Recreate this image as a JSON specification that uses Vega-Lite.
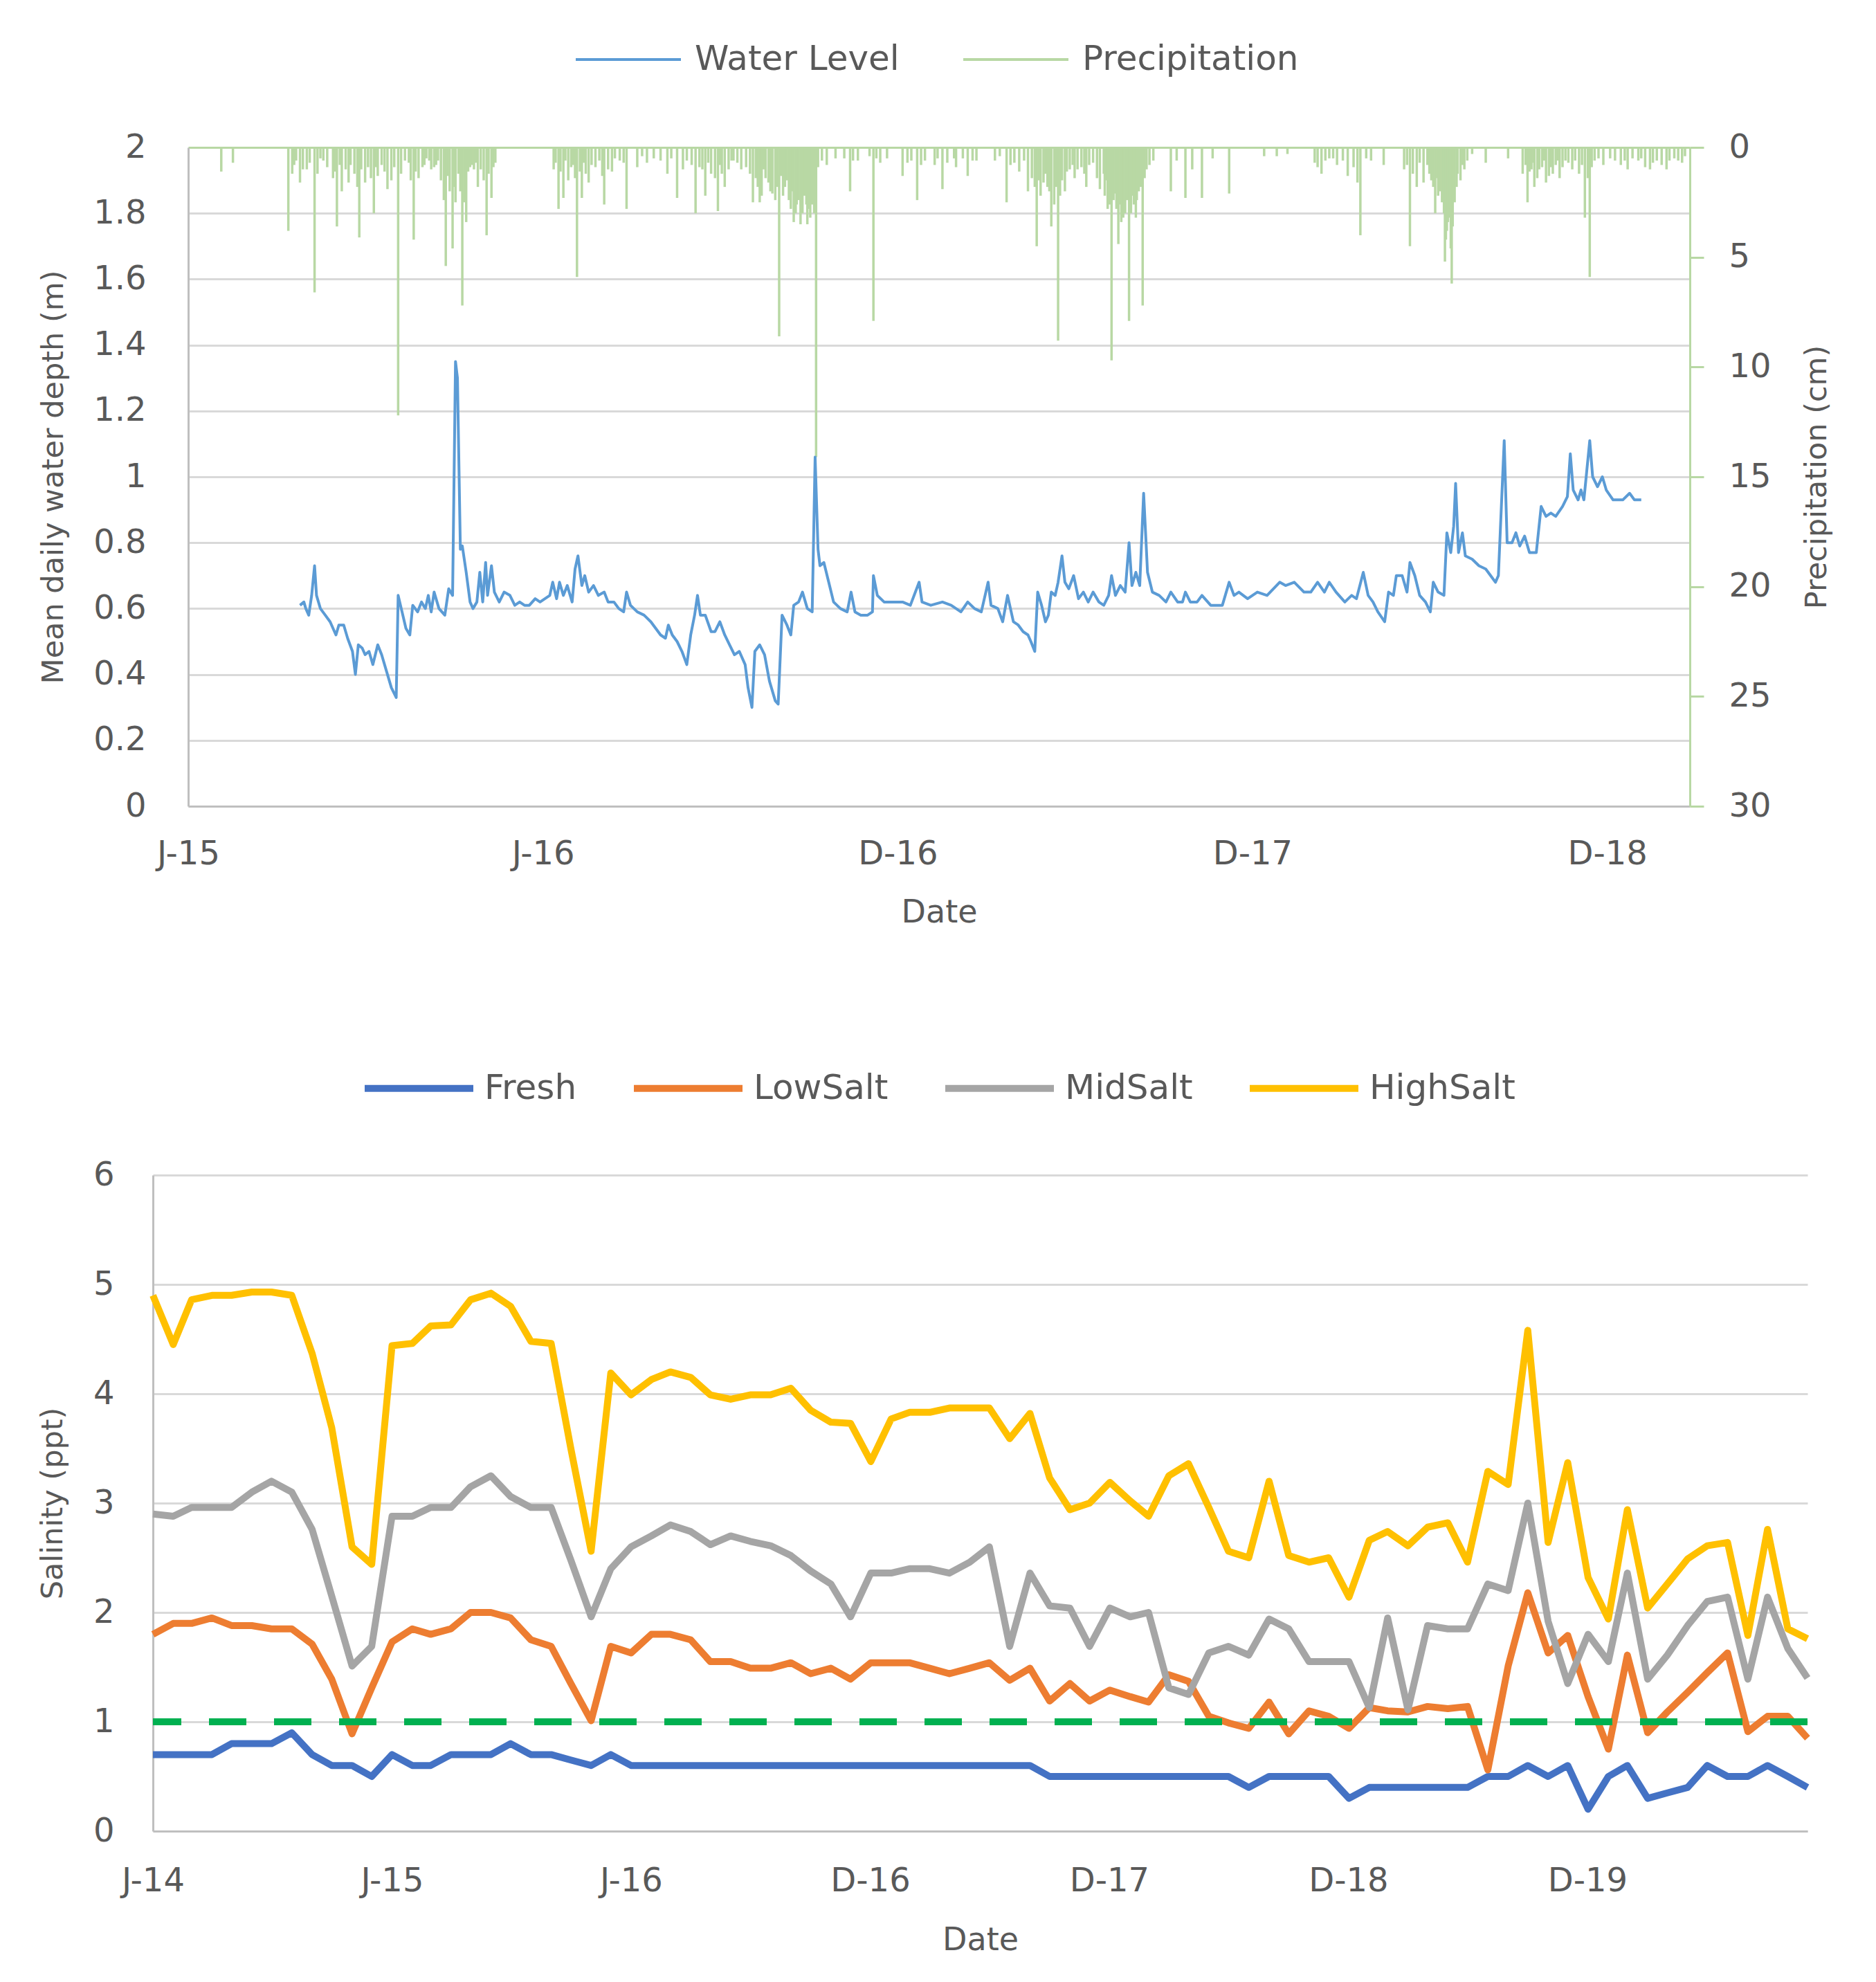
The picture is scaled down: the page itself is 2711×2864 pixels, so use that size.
{
  "$schema": "https://vega.github.io/schema/vega-lite/v6.json",
  "background": "white",
  "padding": {"left": 55, "top": 8, "right": 10, "bottom": 10},
  "config": {
    "view": {"stroke": null},
    "font": "DejaVu Sans",
    "axis": {
      "labelColor": "#595959",
      "titleColor": "#595959",
      "titleFontWeight": "normal",
      "labelFontSize": 48,
      "titleFontSize": 43,
      "domainColor": "#bfbfbf",
      "domainWidth": 3,
      "gridColor": "#d9d9d9",
      "gridWidth": 3,
      "ticks": false,
      "tickSize": 0,
      "labelOverlap": false
    },
    "legend": {"labelColor": "#595959", "labelFontSize": 50, "labelLimit": 0}
  },
  "datasets": {
    "water": [
      {"date": "2015-04-26", "depth": 0.61}, {"date": "2015-04-30", "depth": 0.62}, {"date": "2015-05-02", "depth": 0.6},
      {"date": "2015-05-05", "depth": 0.58}, {"date": "2015-05-08", "depth": 0.64}, {"date": "2015-05-11", "depth": 0.73},
      {"date": "2015-05-13", "depth": 0.64}, {"date": "2015-05-17", "depth": 0.6}, {"date": "2015-05-22", "depth": 0.58},
      {"date": "2015-05-27", "depth": 0.56}, {"date": "2015-06-02", "depth": 0.52}, {"date": "2015-06-05", "depth": 0.55},
      {"date": "2015-06-10", "depth": 0.55}, {"date": "2015-06-14", "depth": 0.51}, {"date": "2015-06-19", "depth": 0.47},
      {"date": "2015-06-22", "depth": 0.4}, {"date": "2015-06-25", "depth": 0.49}, {"date": "2015-06-29", "depth": 0.48},
      {"date": "2015-07-02", "depth": 0.46}, {"date": "2015-07-06", "depth": 0.47}, {"date": "2015-07-10", "depth": 0.43},
      {"date": "2015-07-15", "depth": 0.49}, {"date": "2015-07-19", "depth": 0.46}, {"date": "2015-07-24", "depth": 0.41},
      {"date": "2015-07-29", "depth": 0.36}, {"date": "2015-08-03", "depth": 0.33}, {"date": "2015-08-05", "depth": 0.64},
      {"date": "2015-08-09", "depth": 0.59}, {"date": "2015-08-13", "depth": 0.54}, {"date": "2015-08-17", "depth": 0.52},
      {"date": "2015-08-20", "depth": 0.61}, {"date": "2015-08-25", "depth": 0.59}, {"date": "2015-08-29", "depth": 0.62},
      {"date": "2015-09-02", "depth": 0.6}, {"date": "2015-09-05", "depth": 0.64}, {"date": "2015-09-08", "depth": 0.59},
      {"date": "2015-09-11", "depth": 0.65}, {"date": "2015-09-16", "depth": 0.6}, {"date": "2015-09-22", "depth": 0.58},
      {"date": "2015-09-26", "depth": 0.66}, {"date": "2015-09-30", "depth": 0.64}, {"date": "2015-10-03", "depth": 1.35},
      {"date": "2015-10-05", "depth": 1.3}, {"date": "2015-10-08", "depth": 0.78}, {"date": "2015-10-10", "depth": 0.79},
      {"date": "2015-10-14", "depth": 0.71}, {"date": "2015-10-18", "depth": 0.62}, {"date": "2015-10-21", "depth": 0.6},
      {"date": "2015-10-25", "depth": 0.62}, {"date": "2015-10-28", "depth": 0.71}, {"date": "2015-10-31", "depth": 0.62},
      {"date": "2015-11-03", "depth": 0.74}, {"date": "2015-11-05", "depth": 0.64}, {"date": "2015-11-09", "depth": 0.73},
      {"date": "2015-11-12", "depth": 0.65}, {"date": "2015-11-17", "depth": 0.62}, {"date": "2015-11-22", "depth": 0.65},
      {"date": "2015-11-28", "depth": 0.64}, {"date": "2015-12-03", "depth": 0.61}, {"date": "2015-12-08", "depth": 0.62},
      {"date": "2015-12-13", "depth": 0.61}, {"date": "2015-12-18", "depth": 0.61}, {"date": "2015-12-24", "depth": 0.63},
      {"date": "2015-12-29", "depth": 0.62}, {"date": "2016-01-03", "depth": 0.63}, {"date": "2016-01-08", "depth": 0.64},
      {"date": "2016-01-11", "depth": 0.68}, {"date": "2016-01-15", "depth": 0.63}, {"date": "2016-01-18", "depth": 0.68},
      {"date": "2016-01-22", "depth": 0.64}, {"date": "2016-01-26", "depth": 0.67}, {"date": "2016-01-31", "depth": 0.62},
      {"date": "2016-02-03", "depth": 0.72}, {"date": "2016-02-06", "depth": 0.76}, {"date": "2016-02-10", "depth": 0.67},
      {"date": "2016-02-13", "depth": 0.7}, {"date": "2016-02-17", "depth": 0.65}, {"date": "2016-02-22", "depth": 0.67},
      {"date": "2016-02-27", "depth": 0.64}, {"date": "2016-03-04", "depth": 0.65}, {"date": "2016-03-08", "depth": 0.62},
      {"date": "2016-03-14", "depth": 0.62}, {"date": "2016-03-19", "depth": 0.6}, {"date": "2016-03-24", "depth": 0.59},
      {"date": "2016-03-27", "depth": 0.65}, {"date": "2016-03-31", "depth": 0.61}, {"date": "2016-04-07", "depth": 0.59},
      {"date": "2016-04-14", "depth": 0.58}, {"date": "2016-04-21", "depth": 0.56}, {"date": "2016-04-26", "depth": 0.54},
      {"date": "2016-05-01", "depth": 0.52}, {"date": "2016-05-06", "depth": 0.51}, {"date": "2016-05-09", "depth": 0.55},
      {"date": "2016-05-13", "depth": 0.52}, {"date": "2016-05-18", "depth": 0.5}, {"date": "2016-05-23", "depth": 0.47},
      {"date": "2016-05-28", "depth": 0.43}, {"date": "2016-06-01", "depth": 0.52}, {"date": "2016-06-05", "depth": 0.58},
      {"date": "2016-06-08", "depth": 0.64}, {"date": "2016-06-11", "depth": 0.58}, {"date": "2016-06-16", "depth": 0.58},
      {"date": "2016-06-22", "depth": 0.53}, {"date": "2016-06-26", "depth": 0.53}, {"date": "2016-07-01", "depth": 0.56},
      {"date": "2016-07-06", "depth": 0.52}, {"date": "2016-07-11", "depth": 0.49}, {"date": "2016-07-16", "depth": 0.46},
      {"date": "2016-07-21", "depth": 0.47}, {"date": "2016-07-27", "depth": 0.43}, {"date": "2016-07-30", "depth": 0.36},
      {"date": "2016-08-03", "depth": 0.3}, {"date": "2016-08-06", "depth": 0.47}, {"date": "2016-08-11", "depth": 0.49},
      {"date": "2016-08-16", "depth": 0.46}, {"date": "2016-08-21", "depth": 0.38}, {"date": "2016-08-27", "depth": 0.32},
      {"date": "2016-08-30", "depth": 0.31}, {"date": "2016-09-03", "depth": 0.58}, {"date": "2016-09-08", "depth": 0.55},
      {"date": "2016-09-12", "depth": 0.52}, {"date": "2016-09-15", "depth": 0.61}, {"date": "2016-09-20", "depth": 0.62},
      {"date": "2016-09-24", "depth": 0.65}, {"date": "2016-09-29", "depth": 0.6}, {"date": "2016-10-04", "depth": 0.59},
      {"date": "2016-10-07", "depth": 1.06}, {"date": "2016-10-10", "depth": 0.78}, {"date": "2016-10-12", "depth": 0.73},
      {"date": "2016-10-16", "depth": 0.74}, {"date": "2016-10-21", "depth": 0.68}, {"date": "2016-10-26", "depth": 0.62},
      {"date": "2016-11-02", "depth": 0.6}, {"date": "2016-11-09", "depth": 0.59}, {"date": "2016-11-13", "depth": 0.65},
      {"date": "2016-11-17", "depth": 0.59}, {"date": "2016-11-23", "depth": 0.58}, {"date": "2016-11-30", "depth": 0.58},
      {"date": "2016-12-05", "depth": 0.59}, {"date": "2016-12-06", "depth": 0.7}, {"date": "2016-12-10", "depth": 0.64},
      {"date": "2016-12-17", "depth": 0.62}, {"date": "2016-12-27", "depth": 0.62}, {"date": "2017-01-05", "depth": 0.62},
      {"date": "2017-01-13", "depth": 0.61}, {"date": "2017-01-22", "depth": 0.68}, {"date": "2017-01-25", "depth": 0.62},
      {"date": "2017-02-03", "depth": 0.61}, {"date": "2017-02-15", "depth": 0.62}, {"date": "2017-02-24", "depth": 0.61},
      {"date": "2017-03-06", "depth": 0.59}, {"date": "2017-03-13", "depth": 0.62}, {"date": "2017-03-20", "depth": 0.6},
      {"date": "2017-03-27", "depth": 0.59}, {"date": "2017-04-03", "depth": 0.68}, {"date": "2017-04-06", "depth": 0.61},
      {"date": "2017-04-13", "depth": 0.6}, {"date": "2017-04-18", "depth": 0.56}, {"date": "2017-04-23", "depth": 0.64},
      {"date": "2017-04-29", "depth": 0.56}, {"date": "2017-05-04", "depth": 0.55}, {"date": "2017-05-09", "depth": 0.53},
      {"date": "2017-05-14", "depth": 0.52}, {"date": "2017-05-17", "depth": 0.5}, {"date": "2017-05-21", "depth": 0.47},
      {"date": "2017-05-24", "depth": 0.65}, {"date": "2017-05-28", "depth": 0.61}, {"date": "2017-06-01", "depth": 0.56},
      {"date": "2017-06-04", "depth": 0.58}, {"date": "2017-06-07", "depth": 0.65}, {"date": "2017-06-11", "depth": 0.64},
      {"date": "2017-06-14", "depth": 0.68}, {"date": "2017-06-18", "depth": 0.76}, {"date": "2017-06-21", "depth": 0.68},
      {"date": "2017-06-25", "depth": 0.66}, {"date": "2017-06-30", "depth": 0.7}, {"date": "2017-07-05", "depth": 0.63},
      {"date": "2017-07-10", "depth": 0.65}, {"date": "2017-07-15", "depth": 0.62}, {"date": "2017-07-20", "depth": 0.65},
      {"date": "2017-07-26", "depth": 0.62}, {"date": "2017-07-31", "depth": 0.61}, {"date": "2017-08-05", "depth": 0.64},
      {"date": "2017-08-08", "depth": 0.7}, {"date": "2017-08-12", "depth": 0.64}, {"date": "2017-08-17", "depth": 0.67},
      {"date": "2017-08-22", "depth": 0.65}, {"date": "2017-08-26", "depth": 0.8}, {"date": "2017-08-29", "depth": 0.67},
      {"date": "2017-09-02", "depth": 0.71}, {"date": "2017-09-06", "depth": 0.67}, {"date": "2017-09-10", "depth": 0.95},
      {"date": "2017-09-14", "depth": 0.71}, {"date": "2017-09-19", "depth": 0.65}, {"date": "2017-09-26", "depth": 0.64},
      {"date": "2017-10-03", "depth": 0.62}, {"date": "2017-10-08", "depth": 0.65}, {"date": "2017-10-15", "depth": 0.62},
      {"date": "2017-10-20", "depth": 0.62}, {"date": "2017-10-23", "depth": 0.65}, {"date": "2017-10-28", "depth": 0.62},
      {"date": "2017-11-04", "depth": 0.62}, {"date": "2017-11-09", "depth": 0.64}, {"date": "2017-11-18", "depth": 0.61},
      {"date": "2017-11-30", "depth": 0.61}, {"date": "2017-12-07", "depth": 0.68}, {"date": "2017-12-12", "depth": 0.64},
      {"date": "2017-12-17", "depth": 0.65}, {"date": "2017-12-26", "depth": 0.63}, {"date": "2018-01-05", "depth": 0.65},
      {"date": "2018-01-15", "depth": 0.64}, {"date": "2018-01-28", "depth": 0.68}, {"date": "2018-02-03", "depth": 0.67},
      {"date": "2018-02-12", "depth": 0.68}, {"date": "2018-02-22", "depth": 0.65}, {"date": "2018-03-01", "depth": 0.65},
      {"date": "2018-03-08", "depth": 0.68}, {"date": "2018-03-15", "depth": 0.65}, {"date": "2018-03-20", "depth": 0.68},
      {"date": "2018-03-27", "depth": 0.65}, {"date": "2018-04-05", "depth": 0.62}, {"date": "2018-04-12", "depth": 0.64},
      {"date": "2018-04-17", "depth": 0.63}, {"date": "2018-04-24", "depth": 0.71}, {"date": "2018-04-29", "depth": 0.64},
      {"date": "2018-05-04", "depth": 0.62}, {"date": "2018-05-09", "depth": 0.59}, {"date": "2018-05-16", "depth": 0.56},
      {"date": "2018-05-20", "depth": 0.65}, {"date": "2018-05-25", "depth": 0.64}, {"date": "2018-05-28", "depth": 0.7},
      {"date": "2018-06-03", "depth": 0.7}, {"date": "2018-06-08", "depth": 0.65}, {"date": "2018-06-11", "depth": 0.74},
      {"date": "2018-06-16", "depth": 0.7}, {"date": "2018-06-21", "depth": 0.64}, {"date": "2018-06-27", "depth": 0.62},
      {"date": "2018-07-02", "depth": 0.59}, {"date": "2018-07-05", "depth": 0.68}, {"date": "2018-07-10", "depth": 0.65},
      {"date": "2018-07-16", "depth": 0.64}, {"date": "2018-07-19", "depth": 0.83}, {"date": "2018-07-23", "depth": 0.77},
      {"date": "2018-07-26", "depth": 0.85}, {"date": "2018-07-28", "depth": 0.98}, {"date": "2018-07-31", "depth": 0.77},
      {"date": "2018-08-04", "depth": 0.83}, {"date": "2018-08-07", "depth": 0.76}, {"date": "2018-08-14", "depth": 0.75},
      {"date": "2018-08-21", "depth": 0.73}, {"date": "2018-08-28", "depth": 0.72}, {"date": "2018-09-02", "depth": 0.7},
      {"date": "2018-09-07", "depth": 0.68}, {"date": "2018-09-10", "depth": 0.7}, {"date": "2018-09-16", "depth": 1.11},
      {"date": "2018-09-19", "depth": 0.8}, {"date": "2018-09-24", "depth": 0.8}, {"date": "2018-09-28", "depth": 0.83},
      {"date": "2018-10-02", "depth": 0.79}, {"date": "2018-10-07", "depth": 0.82}, {"date": "2018-10-12", "depth": 0.77},
      {"date": "2018-10-19", "depth": 0.77}, {"date": "2018-10-24", "depth": 0.91}, {"date": "2018-10-29", "depth": 0.88},
      {"date": "2018-11-03", "depth": 0.89}, {"date": "2018-11-08", "depth": 0.88}, {"date": "2018-11-15", "depth": 0.91},
      {"date": "2018-11-20", "depth": 0.94}, {"date": "2018-11-23", "depth": 1.07}, {"date": "2018-11-26", "depth": 0.96},
      {"date": "2018-12-01", "depth": 0.93}, {"date": "2018-12-04", "depth": 0.96}, {"date": "2018-12-07", "depth": 0.93},
      {"date": "2018-12-10", "depth": 1.02}, {"date": "2018-12-13", "depth": 1.11}, {"date": "2018-12-16", "depth": 1.0},
      {"date": "2018-12-21", "depth": 0.97}, {"date": "2018-12-26", "depth": 1.0}, {"date": "2018-12-30", "depth": 0.96},
      {"date": "2019-01-06", "depth": 0.93}, {"date": "2019-01-16", "depth": 0.93}, {"date": "2019-01-23", "depth": 0.95},
      {"date": "2019-01-28", "depth": 0.93}, {"date": "2019-02-04", "depth": 0.93}
    ],
    "precip": [
      {"date": "2015-02-04", "precip": 1.1}, {"date": "2015-02-16", "precip": 0.7}, {"date": "2015-04-14", "precip": 3.8},
      {"date": "2015-04-18", "precip": 1.2}, {"date": "2015-04-20", "precip": 0.8}, {"date": "2015-04-26", "precip": 1.6},
      {"date": "2015-05-03", "precip": 1.0}, {"date": "2015-05-11", "precip": 6.6}, {"date": "2015-05-17", "precip": 0.5},
      {"date": "2015-05-24", "precip": 0.9}, {"date": "2015-05-30", "precip": 1.4}, {"date": "2015-06-03", "precip": 3.6},
      {"date": "2015-06-08", "precip": 2.0}, {"date": "2015-06-12", "precip": 1.0}, {"date": "2015-06-17", "precip": 0.8},
      {"date": "2015-06-21", "precip": 1.2}, {"date": "2015-06-26", "precip": 4.1}, {"date": "2015-07-02", "precip": 1.6},
      {"date": "2015-07-05", "precip": 0.9}, {"date": "2015-07-11", "precip": 3.0}, {"date": "2015-07-15", "precip": 1.3},
      {"date": "2015-07-19", "precip": 0.8}, {"date": "2015-07-25", "precip": 1.9}, {"date": "2015-07-29", "precip": 1.5},
      {"date": "2015-08-05", "precip": 12.2}, {"date": "2015-08-12", "precip": 0.6}, {"date": "2015-08-21", "precip": 4.2},
      {"date": "2015-08-26", "precip": 1.4}, {"date": "2015-08-30", "precip": 0.9}, {"date": "2015-09-03", "precip": 0.5},
      {"date": "2015-09-08", "precip": 1.0}, {"date": "2015-09-13", "precip": 0.8}, {"date": "2015-09-18", "precip": 1.5},
      {"date": "2015-09-23", "precip": 5.4}, {"date": "2015-09-27", "precip": 2.0}, {"date": "2015-09-30", "precip": 4.6},
      {"date": "2015-10-03", "precip": 2.5}, {"date": "2015-10-06", "precip": 1.2}, {"date": "2015-10-10", "precip": 7.2},
      {"date": "2015-10-14", "precip": 3.4}, {"date": "2015-10-18", "precip": 0.9}, {"date": "2015-10-22", "precip": 1.0},
      {"date": "2015-10-26", "precip": 1.8}, {"date": "2015-11-01", "precip": 1.5}, {"date": "2015-11-04", "precip": 4.0},
      {"date": "2015-11-09", "precip": 2.3}, {"date": "2015-11-13", "precip": 0.7}, {"date": "2016-01-12", "precip": 1.0},
      {"date": "2016-01-17", "precip": 2.8}, {"date": "2016-01-22", "precip": 2.3}, {"date": "2016-01-27", "precip": 1.5},
      {"date": "2016-02-01", "precip": 0.8}, {"date": "2016-02-05", "precip": 5.9}, {"date": "2016-02-10", "precip": 2.3},
      {"date": "2016-02-14", "precip": 1.2}, {"date": "2016-02-17", "precip": 1.6}, {"date": "2016-02-24", "precip": 0.9},
      {"date": "2016-03-04", "precip": 2.6}, {"date": "2016-03-08", "precip": 1.0}, {"date": "2016-03-12", "precip": 1.1},
      {"date": "2016-03-20", "precip": 0.6}, {"date": "2016-03-27", "precip": 2.8}, {"date": "2016-04-07", "precip": 0.9},
      {"date": "2016-04-12", "precip": 0.4}, {"date": "2016-04-17", "precip": 0.7}, {"date": "2016-04-24", "precip": 0.5},
      {"date": "2016-05-01", "precip": 0.6}, {"date": "2016-05-08", "precip": 1.2}, {"date": "2016-05-18", "precip": 2.3},
      {"date": "2016-05-24", "precip": 1.0}, {"date": "2016-06-06", "precip": 3.0}, {"date": "2016-06-10", "precip": 0.9},
      {"date": "2016-06-16", "precip": 2.2}, {"date": "2016-06-22", "precip": 1.2}, {"date": "2016-06-29", "precip": 2.9},
      {"date": "2016-07-01", "precip": 0.8}, {"date": "2016-07-06", "precip": 1.8}, {"date": "2016-07-10", "precip": 1.0},
      {"date": "2016-07-15", "precip": 0.6}, {"date": "2016-07-19", "precip": 0.7}, {"date": "2016-07-23", "precip": 1.0},
      {"date": "2016-07-28", "precip": 0.9}, {"date": "2016-08-04", "precip": 2.5}, {"date": "2016-08-07", "precip": 1.4},
      {"date": "2016-08-11", "precip": 2.5}, {"date": "2016-08-15", "precip": 1.0}, {"date": "2016-08-20", "precip": 1.6},
      {"date": "2016-08-24", "precip": 2.1}, {"date": "2016-08-31", "precip": 8.6}, {"date": "2016-09-02", "precip": 1.3},
      {"date": "2016-09-06", "precip": 1.8}, {"date": "2016-09-10", "precip": 2.4}, {"date": "2016-09-15", "precip": 3.4},
      {"date": "2016-09-18", "precip": 2.6}, {"date": "2016-09-22", "precip": 3.5}, {"date": "2016-09-26", "precip": 2.2},
      {"date": "2016-09-29", "precip": 3.5}, {"date": "2016-10-02", "precip": 3.2}, {"date": "2016-10-04", "precip": 2.6},
      {"date": "2016-10-08", "precip": 14.1}, {"date": "2016-10-19", "precip": 0.8}, {"date": "2016-10-28", "precip": 0.5},
      {"date": "2016-11-12", "precip": 2.0}, {"date": "2016-11-20", "precip": 0.6}, {"date": "2016-12-06", "precip": 7.9},
      {"date": "2016-12-13", "precip": 0.7}, {"date": "2016-12-20", "precip": 0.5}, {"date": "2017-01-05", "precip": 1.3},
      {"date": "2017-01-10", "precip": 0.7}, {"date": "2017-01-20", "precip": 2.4}, {"date": "2017-01-28", "precip": 0.6},
      {"date": "2017-02-07", "precip": 0.8}, {"date": "2017-02-15", "precip": 1.9}, {"date": "2017-02-27", "precip": 0.5},
      {"date": "2017-03-01", "precip": 0.9}, {"date": "2017-03-13", "precip": 1.3}, {"date": "2017-03-22", "precip": 0.6},
      {"date": "2017-04-10", "precip": 0.6}, {"date": "2017-04-22", "precip": 2.5}, {"date": "2017-04-30", "precip": 0.7},
      {"date": "2017-05-05", "precip": 1.1}, {"date": "2017-05-14", "precip": 2.0}, {"date": "2017-05-18", "precip": 1.4},
      {"date": "2017-05-23", "precip": 4.5}, {"date": "2017-05-27", "precip": 2.2}, {"date": "2017-05-30", "precip": 1.6},
      {"date": "2017-06-03", "precip": 1.8}, {"date": "2017-06-07", "precip": 3.6}, {"date": "2017-06-10", "precip": 2.6},
      {"date": "2017-06-14", "precip": 8.8}, {"date": "2017-06-18", "precip": 1.5}, {"date": "2017-06-21", "precip": 2.0},
      {"date": "2017-06-26", "precip": 1.0}, {"date": "2017-07-01", "precip": 1.4}, {"date": "2017-07-08", "precip": 0.9},
      {"date": "2017-07-13", "precip": 1.8}, {"date": "2017-07-20", "precip": 0.7}, {"date": "2017-07-31", "precip": 1.2},
      {"date": "2017-08-02", "precip": 1.5}, {"date": "2017-08-04", "precip": 2.8}, {"date": "2017-08-08", "precip": 9.7},
      {"date": "2017-08-10", "precip": 2.4}, {"date": "2017-08-12", "precip": 2.1}, {"date": "2017-08-15", "precip": 4.4},
      {"date": "2017-08-17", "precip": 2.6}, {"date": "2017-08-20", "precip": 3.2}, {"date": "2017-08-22", "precip": 3.0},
      {"date": "2017-08-26", "precip": 7.9}, {"date": "2017-08-29", "precip": 2.2}, {"date": "2017-09-02", "precip": 3.2},
      {"date": "2017-09-05", "precip": 2.0}, {"date": "2017-09-09", "precip": 7.2}, {"date": "2017-09-13", "precip": 1.0},
      {"date": "2017-09-20", "precip": 0.6}, {"date": "2017-10-08", "precip": 2.0}, {"date": "2017-10-14", "precip": 0.6},
      {"date": "2017-10-23", "precip": 2.3}, {"date": "2017-10-30", "precip": 1.0}, {"date": "2017-11-09", "precip": 2.3},
      {"date": "2017-11-20", "precip": 0.5}, {"date": "2017-12-07", "precip": 2.1}, {"date": "2018-01-12", "precip": 0.4},
      {"date": "2018-01-25", "precip": 0.4}, {"date": "2018-02-05", "precip": 0.3}, {"date": "2018-03-05", "precip": 0.7},
      {"date": "2018-03-12", "precip": 1.2}, {"date": "2018-03-20", "precip": 0.5}, {"date": "2018-03-28", "precip": 0.8},
      {"date": "2018-04-08", "precip": 1.3}, {"date": "2018-04-14", "precip": 0.9}, {"date": "2018-04-21", "precip": 4.0},
      {"date": "2018-05-02", "precip": 0.6}, {"date": "2018-05-15", "precip": 0.8}, {"date": "2018-06-05", "precip": 1.0},
      {"date": "2018-06-11", "precip": 4.5}, {"date": "2018-06-18", "precip": 1.8}, {"date": "2018-06-25", "precip": 1.6},
      {"date": "2018-07-01", "precip": 1.2}, {"date": "2018-07-07", "precip": 3.0}, {"date": "2018-07-12", "precip": 2.0},
      {"date": "2018-07-14", "precip": 2.5}, {"date": "2018-07-17", "precip": 5.2}, {"date": "2018-07-19", "precip": 3.8},
      {"date": "2018-07-21", "precip": 3.2}, {"date": "2018-07-24", "precip": 6.2}, {"date": "2018-07-27", "precip": 2.5},
      {"date": "2018-07-29", "precip": 1.8}, {"date": "2018-08-02", "precip": 1.5}, {"date": "2018-08-06", "precip": 1.0},
      {"date": "2018-08-14", "precip": 0.3}, {"date": "2018-08-28", "precip": 0.7}, {"date": "2018-09-20", "precip": 0.5},
      {"date": "2018-10-05", "precip": 1.2}, {"date": "2018-10-10", "precip": 2.5}, {"date": "2018-10-14", "precip": 1.0},
      {"date": "2018-10-17", "precip": 1.8}, {"date": "2018-10-20", "precip": 1.4}, {"date": "2018-10-25", "precip": 0.9},
      {"date": "2018-10-29", "precip": 1.6}, {"date": "2018-11-01", "precip": 1.3}, {"date": "2018-11-05", "precip": 1.2},
      {"date": "2018-11-08", "precip": 0.8}, {"date": "2018-11-12", "precip": 1.4}, {"date": "2018-11-18", "precip": 0.6},
      {"date": "2018-11-25", "precip": 1.0}, {"date": "2018-12-02", "precip": 1.2}, {"date": "2018-12-08", "precip": 3.2},
      {"date": "2018-12-13", "precip": 5.9}, {"date": "2018-12-18", "precip": 0.6}, {"date": "2018-12-27", "precip": 0.8},
      {"date": "2019-01-08", "precip": 0.6}, {"date": "2019-01-14", "precip": 0.8}, {"date": "2019-01-21", "precip": 1.0},
      {"date": "2019-02-01", "precip": 0.6}, {"date": "2019-02-08", "precip": 0.9}, {"date": "2019-02-13", "precip": 1.0},
      {"date": "2019-02-20", "precip": 0.6}, {"date": "2019-02-25", "precip": 0.8}, {"date": "2019-03-02", "precip": 1.0},
      {"date": "2019-03-10", "precip": 0.5}, {"date": "2019-03-18", "precip": 0.7},
      {"date": "2015-04-22", "precip": 0.6}, {"date": "2015-04-29", "precip": 1.0}, {"date": "2015-05-06", "precip": 0.7},
      {"date": "2015-05-14", "precip": 1.2}, {"date": "2015-05-20", "precip": 0.6}, {"date": "2015-06-01", "precip": 1.1},
      {"date": "2015-06-06", "precip": 0.8}, {"date": "2015-06-15", "precip": 1.6}, {"date": "2015-06-24", "precip": 1.8},
      {"date": "2015-06-28", "precip": 1.0}, {"date": "2015-07-08", "precip": 1.4}, {"date": "2015-07-13", "precip": 0.9},
      {"date": "2015-07-22", "precip": 1.1}, {"date": "2015-08-01", "precip": 0.9}, {"date": "2015-08-08", "precip": 1.2},
      {"date": "2015-08-16", "precip": 0.7}, {"date": "2015-08-18", "precip": 1.5}, {"date": "2015-08-23", "precip": 1.1},
      {"date": "2015-09-01", "precip": 0.8}, {"date": "2015-09-06", "precip": 0.6}, {"date": "2015-09-11", "precip": 0.9},
      {"date": "2015-09-15", "precip": 0.6}, {"date": "2015-09-21", "precip": 2.4}, {"date": "2015-09-25", "precip": 1.3},
      {"date": "2015-10-01", "precip": 1.8}, {"date": "2015-10-08", "precip": 2.0}, {"date": "2015-10-12", "precip": 2.5},
      {"date": "2015-10-16", "precip": 1.1}, {"date": "2015-10-20", "precip": 0.8}, {"date": "2015-10-24", "precip": 0.7},
      {"date": "2015-10-29", "precip": 1.0}, {"date": "2015-11-06", "precip": 1.2}, {"date": "2015-11-11", "precip": 0.9},
      {"date": "2016-01-14", "precip": 0.7}, {"date": "2016-01-19", "precip": 1.1}, {"date": "2016-01-24", "precip": 0.6},
      {"date": "2016-01-30", "precip": 0.9}, {"date": "2016-02-03", "precip": 1.4}, {"date": "2016-02-08", "precip": 1.1},
      {"date": "2016-02-12", "precip": 0.7}, {"date": "2016-02-20", "precip": 0.8}, {"date": "2016-02-28", "precip": 0.6},
      {"date": "2016-03-02", "precip": 1.3}, {"date": "2016-03-15", "precip": 0.5}, {"date": "2016-03-24", "precip": 0.7},
      {"date": "2016-05-12", "precip": 0.5}, {"date": "2016-05-28", "precip": 0.6}, {"date": "2016-06-02", "precip": 0.8},
      {"date": "2016-06-13", "precip": 1.0}, {"date": "2016-06-19", "precip": 0.7}, {"date": "2016-06-26", "precip": 1.4},
      {"date": "2016-07-03", "precip": 1.2}, {"date": "2016-07-13", "precip": 0.6}, {"date": "2016-08-01", "precip": 1.2},
      {"date": "2016-08-09", "precip": 1.8}, {"date": "2016-08-13", "precip": 2.2}, {"date": "2016-08-17", "precip": 1.4},
      {"date": "2016-08-22", "precip": 2.0}, {"date": "2016-08-27", "precip": 2.4}, {"date": "2016-08-29", "precip": 1.8},
      {"date": "2016-09-04", "precip": 2.2}, {"date": "2016-09-08", "precip": 1.5}, {"date": "2016-09-12", "precip": 2.8},
      {"date": "2016-09-14", "precip": 2.0}, {"date": "2016-09-17", "precip": 3.0}, {"date": "2016-09-20", "precip": 2.4},
      {"date": "2016-09-24", "precip": 3.0}, {"date": "2016-09-28", "precip": 2.6}, {"date": "2016-10-01", "precip": 2.8},
      {"date": "2016-10-06", "precip": 3.0}, {"date": "2016-10-10", "precip": 0.9}, {"date": "2016-10-14", "precip": 0.6},
      {"date": "2016-11-06", "precip": 0.5}, {"date": "2016-11-15", "precip": 0.6}, {"date": "2016-12-02", "precip": 0.4},
      {"date": "2016-12-09", "precip": 0.5}, {"date": "2017-01-14", "precip": 0.6}, {"date": "2017-01-24", "precip": 0.8},
      {"date": "2017-02-10", "precip": 0.5}, {"date": "2017-02-20", "precip": 0.7}, {"date": "2017-03-08", "precip": 0.5},
      {"date": "2017-03-18", "precip": 0.6}, {"date": "2017-04-15", "precip": 0.4}, {"date": "2017-04-26", "precip": 0.8},
      {"date": "2017-05-10", "precip": 0.6}, {"date": "2017-05-21", "precip": 1.8}, {"date": "2017-05-25", "precip": 1.5},
      {"date": "2017-06-01", "precip": 1.2}, {"date": "2017-06-05", "precip": 2.0}, {"date": "2017-06-12", "precip": 1.8},
      {"date": "2017-06-16", "precip": 2.2}, {"date": "2017-06-23", "precip": 1.1}, {"date": "2017-06-29", "precip": 0.8},
      {"date": "2017-07-04", "precip": 1.0}, {"date": "2017-07-11", "precip": 1.2}, {"date": "2017-07-16", "precip": 0.8},
      {"date": "2017-07-24", "precip": 1.4}, {"date": "2017-07-27", "precip": 1.9}, {"date": "2017-08-01", "precip": 2.2},
      {"date": "2017-08-06", "precip": 2.6}, {"date": "2017-08-13", "precip": 2.8}, {"date": "2017-08-18", "precip": 3.4},
      {"date": "2017-08-24", "precip": 2.4}, {"date": "2017-08-28", "precip": 3.0}, {"date": "2017-08-31", "precip": 2.6},
      {"date": "2017-09-03", "precip": 2.4}, {"date": "2017-09-07", "precip": 1.8}, {"date": "2017-09-11", "precip": 1.4},
      {"date": "2017-09-16", "precip": 0.8}, {"date": "2018-03-08", "precip": 0.9}, {"date": "2018-03-16", "precip": 0.6},
      {"date": "2018-03-24", "precip": 0.5}, {"date": "2018-04-03", "precip": 0.6}, {"date": "2018-04-18", "precip": 1.6},
      {"date": "2018-04-27", "precip": 0.5}, {"date": "2018-06-08", "precip": 0.8}, {"date": "2018-06-14", "precip": 1.2},
      {"date": "2018-06-21", "precip": 0.7}, {"date": "2018-06-29", "precip": 0.8}, {"date": "2018-07-03", "precip": 1.5},
      {"date": "2018-07-05", "precip": 1.8}, {"date": "2018-07-09", "precip": 1.4}, {"date": "2018-07-10", "precip": 2.2},
      {"date": "2018-07-16", "precip": 3.0}, {"date": "2018-07-18", "precip": 4.2}, {"date": "2018-07-20", "precip": 3.4},
      {"date": "2018-07-22", "precip": 2.8}, {"date": "2018-07-23", "precip": 4.6}, {"date": "2018-07-25", "precip": 3.6},
      {"date": "2018-07-26", "precip": 2.2}, {"date": "2018-07-30", "precip": 1.2}, {"date": "2018-08-04", "precip": 0.8},
      {"date": "2018-08-09", "precip": 0.6}, {"date": "2018-10-08", "precip": 0.8}, {"date": "2018-10-12", "precip": 1.1},
      {"date": "2018-10-16", "precip": 0.7}, {"date": "2018-10-22", "precip": 1.0}, {"date": "2018-10-27", "precip": 0.6},
      {"date": "2018-11-03", "precip": 0.9}, {"date": "2018-11-10", "precip": 0.6}, {"date": "2018-11-15", "precip": 0.9},
      {"date": "2018-11-21", "precip": 0.7}, {"date": "2018-11-28", "precip": 0.6}, {"date": "2018-12-05", "precip": 0.8},
      {"date": "2018-12-11", "precip": 1.4}, {"date": "2018-12-15", "precip": 0.9}, {"date": "2018-12-22", "precip": 0.5},
      {"date": "2019-01-03", "precip": 0.5}, {"date": "2019-01-18", "precip": 0.6}, {"date": "2019-01-26", "precip": 0.5},
      {"date": "2019-02-04", "precip": 0.5}, {"date": "2019-02-16", "precip": 0.7}, {"date": "2019-03-05", "precip": 0.6},
      {"date": "2019-03-14", "precip": 0.6}, {"date": "2019-03-21", "precip": 0.4}
    ],
    "salinity": [
      {"date": "2014-01-01", "series": "Fresh", "salinity": 0.7}, {"date": "2014-02-01", "series": "Fresh", "salinity": 0.7},
      {"date": "2014-03-01", "series": "Fresh", "salinity": 0.7}, {"date": "2014-04-01", "series": "Fresh", "salinity": 0.7},
      {"date": "2014-05-01", "series": "Fresh", "salinity": 0.8}, {"date": "2014-06-01", "series": "Fresh", "salinity": 0.8},
      {"date": "2014-07-01", "series": "Fresh", "salinity": 0.8}, {"date": "2014-08-01", "series": "Fresh", "salinity": 0.9},
      {"date": "2014-09-01", "series": "Fresh", "salinity": 0.7}, {"date": "2014-10-01", "series": "Fresh", "salinity": 0.6},
      {"date": "2014-11-01", "series": "Fresh", "salinity": 0.6}, {"date": "2014-12-01", "series": "Fresh", "salinity": 0.5},
      {"date": "2015-01-01", "series": "Fresh", "salinity": 0.7}, {"date": "2015-02-01", "series": "Fresh", "salinity": 0.6},
      {"date": "2015-03-01", "series": "Fresh", "salinity": 0.6}, {"date": "2015-04-01", "series": "Fresh", "salinity": 0.7},
      {"date": "2015-05-01", "series": "Fresh", "salinity": 0.7}, {"date": "2015-06-01", "series": "Fresh", "salinity": 0.7},
      {"date": "2015-07-01", "series": "Fresh", "salinity": 0.8}, {"date": "2015-08-01", "series": "Fresh", "salinity": 0.7},
      {"date": "2015-09-01", "series": "Fresh", "salinity": 0.7}, {"date": "2015-10-01", "series": "Fresh", "salinity": 0.65},
      {"date": "2015-11-01", "series": "Fresh", "salinity": 0.6}, {"date": "2015-12-01", "series": "Fresh", "salinity": 0.7},
      {"date": "2016-01-01", "series": "Fresh", "salinity": 0.6}, {"date": "2016-02-01", "series": "Fresh", "salinity": 0.6},
      {"date": "2016-03-01", "series": "Fresh", "salinity": 0.6}, {"date": "2016-04-01", "series": "Fresh", "salinity": 0.6},
      {"date": "2016-05-01", "series": "Fresh", "salinity": 0.6}, {"date": "2016-06-01", "series": "Fresh", "salinity": 0.6},
      {"date": "2016-07-01", "series": "Fresh", "salinity": 0.6}, {"date": "2016-08-01", "series": "Fresh", "salinity": 0.6},
      {"date": "2016-09-01", "series": "Fresh", "salinity": 0.6}, {"date": "2016-10-01", "series": "Fresh", "salinity": 0.6},
      {"date": "2016-11-01", "series": "Fresh", "salinity": 0.6}, {"date": "2016-12-01", "series": "Fresh", "salinity": 0.6},
      {"date": "2017-01-01", "series": "Fresh", "salinity": 0.6}, {"date": "2017-02-01", "series": "Fresh", "salinity": 0.6},
      {"date": "2017-03-01", "series": "Fresh", "salinity": 0.6}, {"date": "2017-04-01", "series": "Fresh", "salinity": 0.6},
      {"date": "2017-05-01", "series": "Fresh", "salinity": 0.6}, {"date": "2017-06-01", "series": "Fresh", "salinity": 0.6},
      {"date": "2017-07-01", "series": "Fresh", "salinity": 0.6}, {"date": "2017-08-01", "series": "Fresh", "salinity": 0.6},
      {"date": "2017-09-01", "series": "Fresh", "salinity": 0.6}, {"date": "2017-10-01", "series": "Fresh", "salinity": 0.5},
      {"date": "2017-11-01", "series": "Fresh", "salinity": 0.5}, {"date": "2017-12-01", "series": "Fresh", "salinity": 0.5},
      {"date": "2018-01-01", "series": "Fresh", "salinity": 0.5}, {"date": "2018-02-01", "series": "Fresh", "salinity": 0.5},
      {"date": "2018-03-01", "series": "Fresh", "salinity": 0.5}, {"date": "2018-04-01", "series": "Fresh", "salinity": 0.5},
      {"date": "2018-05-01", "series": "Fresh", "salinity": 0.5}, {"date": "2018-06-01", "series": "Fresh", "salinity": 0.5},
      {"date": "2018-07-01", "series": "Fresh", "salinity": 0.5}, {"date": "2018-08-01", "series": "Fresh", "salinity": 0.4},
      {"date": "2018-09-01", "series": "Fresh", "salinity": 0.5}, {"date": "2018-10-01", "series": "Fresh", "salinity": 0.5},
      {"date": "2018-11-01", "series": "Fresh", "salinity": 0.5}, {"date": "2018-12-01", "series": "Fresh", "salinity": 0.5},
      {"date": "2019-01-01", "series": "Fresh", "salinity": 0.3}, {"date": "2019-02-01", "series": "Fresh", "salinity": 0.4},
      {"date": "2019-03-01", "series": "Fresh", "salinity": 0.4}, {"date": "2019-04-01", "series": "Fresh", "salinity": 0.4},
      {"date": "2019-05-01", "series": "Fresh", "salinity": 0.4}, {"date": "2019-06-01", "series": "Fresh", "salinity": 0.4},
      {"date": "2019-07-01", "series": "Fresh", "salinity": 0.4}, {"date": "2019-08-01", "series": "Fresh", "salinity": 0.5},
      {"date": "2019-09-01", "series": "Fresh", "salinity": 0.5}, {"date": "2019-10-01", "series": "Fresh", "salinity": 0.6},
      {"date": "2019-11-01", "series": "Fresh", "salinity": 0.5}, {"date": "2019-12-01", "series": "Fresh", "salinity": 0.6},
      {"date": "2020-01-01", "series": "Fresh", "salinity": 0.2}, {"date": "2020-02-01", "series": "Fresh", "salinity": 0.5},
      {"date": "2020-03-01", "series": "Fresh", "salinity": 0.6}, {"date": "2020-04-01", "series": "Fresh", "salinity": 0.3},
      {"date": "2020-05-01", "series": "Fresh", "salinity": 0.35}, {"date": "2020-06-01", "series": "Fresh", "salinity": 0.4},
      {"date": "2020-07-01", "series": "Fresh", "salinity": 0.6}, {"date": "2020-08-01", "series": "Fresh", "salinity": 0.5},
      {"date": "2020-09-01", "series": "Fresh", "salinity": 0.5}, {"date": "2020-10-01", "series": "Fresh", "salinity": 0.6},
      {"date": "2020-11-01", "series": "Fresh", "salinity": 0.5}, {"date": "2020-12-01", "series": "Fresh", "salinity": 0.4},

      {"date": "2014-01-01", "series": "LowSalt", "salinity": 1.8}, {"date": "2014-02-01", "series": "LowSalt", "salinity": 1.9},
      {"date": "2014-03-01", "series": "LowSalt", "salinity": 1.9}, {"date": "2014-04-01", "series": "LowSalt", "salinity": 1.95},
      {"date": "2014-05-01", "series": "LowSalt", "salinity": 1.88}, {"date": "2014-06-01", "series": "LowSalt", "salinity": 1.88},
      {"date": "2014-07-01", "series": "LowSalt", "salinity": 1.85}, {"date": "2014-08-01", "series": "LowSalt", "salinity": 1.85},
      {"date": "2014-09-01", "series": "LowSalt", "salinity": 1.71}, {"date": "2014-10-01", "series": "LowSalt", "salinity": 1.39},
      {"date": "2014-11-01", "series": "LowSalt", "salinity": 0.89}, {"date": "2014-12-01", "series": "LowSalt", "salinity": 1.31},
      {"date": "2015-01-01", "series": "LowSalt", "salinity": 1.73}, {"date": "2015-02-01", "series": "LowSalt", "salinity": 1.85},
      {"date": "2015-03-01", "series": "LowSalt", "salinity": 1.8}, {"date": "2015-04-01", "series": "LowSalt", "salinity": 1.85},
      {"date": "2015-05-01", "series": "LowSalt", "salinity": 2.0}, {"date": "2015-06-01", "series": "LowSalt", "salinity": 2.0},
      {"date": "2015-07-01", "series": "LowSalt", "salinity": 1.95}, {"date": "2015-08-01", "series": "LowSalt", "salinity": 1.75},
      {"date": "2015-09-01", "series": "LowSalt", "salinity": 1.69}, {"date": "2015-10-01", "series": "LowSalt", "salinity": 1.35},
      {"date": "2015-11-01", "series": "LowSalt", "salinity": 1.01}, {"date": "2015-12-01", "series": "LowSalt", "salinity": 1.69},
      {"date": "2016-01-01", "series": "LowSalt", "salinity": 1.63}, {"date": "2016-02-01", "series": "LowSalt", "salinity": 1.8},
      {"date": "2016-03-01", "series": "LowSalt", "salinity": 1.8}, {"date": "2016-04-01", "series": "LowSalt", "salinity": 1.75},
      {"date": "2016-05-01", "series": "LowSalt", "salinity": 1.55}, {"date": "2016-06-01", "series": "LowSalt", "salinity": 1.55},
      {"date": "2016-07-01", "series": "LowSalt", "salinity": 1.49}, {"date": "2016-08-01", "series": "LowSalt", "salinity": 1.49},
      {"date": "2016-09-01", "series": "LowSalt", "salinity": 1.54}, {"date": "2016-10-01", "series": "LowSalt", "salinity": 1.44},
      {"date": "2016-11-01", "series": "LowSalt", "salinity": 1.49}, {"date": "2016-12-01", "series": "LowSalt", "salinity": 1.39},
      {"date": "2017-01-01", "series": "LowSalt", "salinity": 1.54}, {"date": "2017-02-01", "series": "LowSalt", "salinity": 1.54},
      {"date": "2017-03-01", "series": "LowSalt", "salinity": 1.54}, {"date": "2017-04-01", "series": "LowSalt", "salinity": 1.49},
      {"date": "2017-05-01", "series": "LowSalt", "salinity": 1.44}, {"date": "2017-06-01", "series": "LowSalt", "salinity": 1.49},
      {"date": "2017-07-01", "series": "LowSalt", "salinity": 1.54}, {"date": "2017-08-01", "series": "LowSalt", "salinity": 1.38},
      {"date": "2017-09-01", "series": "LowSalt", "salinity": 1.49}, {"date": "2017-10-01", "series": "LowSalt", "salinity": 1.19},
      {"date": "2017-11-01", "series": "LowSalt", "salinity": 1.35}, {"date": "2017-12-01", "series": "LowSalt", "salinity": 1.19},
      {"date": "2018-01-01", "series": "LowSalt", "salinity": 1.29}, {"date": "2018-02-01", "series": "LowSalt", "salinity": 1.23},
      {"date": "2018-03-01", "series": "LowSalt", "salinity": 1.18}, {"date": "2018-04-01", "series": "LowSalt", "salinity": 1.43},
      {"date": "2018-05-01", "series": "LowSalt", "salinity": 1.37}, {"date": "2018-06-01", "series": "LowSalt", "salinity": 1.05},
      {"date": "2018-07-01", "series": "LowSalt", "salinity": 0.99}, {"date": "2018-08-01", "series": "LowSalt", "salinity": 0.94},
      {"date": "2018-09-01", "series": "LowSalt", "salinity": 1.18}, {"date": "2018-10-01", "series": "LowSalt", "salinity": 0.89},
      {"date": "2018-11-01", "series": "LowSalt", "salinity": 1.1}, {"date": "2018-12-01", "series": "LowSalt", "salinity": 1.05},
      {"date": "2019-01-01", "series": "LowSalt", "salinity": 0.94}, {"date": "2019-02-01", "series": "LowSalt", "salinity": 1.13},
      {"date": "2019-03-01", "series": "LowSalt", "salinity": 1.1}, {"date": "2019-04-01", "series": "LowSalt", "salinity": 1.09},
      {"date": "2019-05-01", "series": "LowSalt", "salinity": 1.14}, {"date": "2019-06-01", "series": "LowSalt", "salinity": 1.12},
      {"date": "2019-07-01", "series": "LowSalt", "salinity": 1.14}, {"date": "2019-08-01", "series": "LowSalt", "salinity": 0.56},
      {"date": "2019-09-01", "series": "LowSalt", "salinity": 1.51}, {"date": "2019-10-01", "series": "LowSalt", "salinity": 2.18},
      {"date": "2019-11-01", "series": "LowSalt", "salinity": 1.63}, {"date": "2019-12-01", "series": "LowSalt", "salinity": 1.79},
      {"date": "2020-01-01", "series": "LowSalt", "salinity": 1.23}, {"date": "2020-02-01", "series": "LowSalt", "salinity": 0.75},
      {"date": "2020-03-01", "series": "LowSalt", "salinity": 1.61}, {"date": "2020-04-01", "series": "LowSalt", "salinity": 0.9},
      {"date": "2020-05-01", "series": "LowSalt", "salinity": 1.09}, {"date": "2020-06-01", "series": "LowSalt", "salinity": 1.27},
      {"date": "2020-07-01", "series": "LowSalt", "salinity": 1.45}, {"date": "2020-08-01", "series": "LowSalt", "salinity": 1.63},
      {"date": "2020-09-01", "series": "LowSalt", "salinity": 0.91}, {"date": "2020-10-01", "series": "LowSalt", "salinity": 1.05},
      {"date": "2020-11-01", "series": "LowSalt", "salinity": 1.05}, {"date": "2020-12-01", "series": "LowSalt", "salinity": 0.85},

      {"date": "2014-01-01", "series": "MidSalt", "salinity": 2.9}, {"date": "2014-02-01", "series": "MidSalt", "salinity": 2.88},
      {"date": "2014-03-01", "series": "MidSalt", "salinity": 2.96}, {"date": "2014-04-01", "series": "MidSalt", "salinity": 2.96},
      {"date": "2014-05-01", "series": "MidSalt", "salinity": 2.96}, {"date": "2014-06-01", "series": "MidSalt", "salinity": 3.1},
      {"date": "2014-07-01", "series": "MidSalt", "salinity": 3.2}, {"date": "2014-08-01", "series": "MidSalt", "salinity": 3.1},
      {"date": "2014-09-01", "series": "MidSalt", "salinity": 2.76}, {"date": "2014-10-01", "series": "MidSalt", "salinity": 2.15},
      {"date": "2014-11-01", "series": "MidSalt", "salinity": 1.51}, {"date": "2014-12-01", "series": "MidSalt", "salinity": 1.69},
      {"date": "2015-01-01", "series": "MidSalt", "salinity": 2.88}, {"date": "2015-02-01", "series": "MidSalt", "salinity": 2.88},
      {"date": "2015-03-01", "series": "MidSalt", "salinity": 2.96}, {"date": "2015-04-01", "series": "MidSalt", "salinity": 2.96},
      {"date": "2015-05-01", "series": "MidSalt", "salinity": 3.15}, {"date": "2015-06-01", "series": "MidSalt", "salinity": 3.25},
      {"date": "2015-07-01", "series": "MidSalt", "salinity": 3.06}, {"date": "2015-08-01", "series": "MidSalt", "salinity": 2.96},
      {"date": "2015-09-01", "series": "MidSalt", "salinity": 2.96}, {"date": "2015-10-01", "series": "MidSalt", "salinity": 2.48},
      {"date": "2015-11-01", "series": "MidSalt", "salinity": 1.96}, {"date": "2015-12-01", "series": "MidSalt", "salinity": 2.4},
      {"date": "2016-01-01", "series": "MidSalt", "salinity": 2.6}, {"date": "2016-02-01", "series": "MidSalt", "salinity": 2.7},
      {"date": "2016-03-01", "series": "MidSalt", "salinity": 2.8}, {"date": "2016-04-01", "series": "MidSalt", "salinity": 2.74},
      {"date": "2016-05-01", "series": "MidSalt", "salinity": 2.62}, {"date": "2016-06-01", "series": "MidSalt", "salinity": 2.7},
      {"date": "2016-07-01", "series": "MidSalt", "salinity": 2.65}, {"date": "2016-08-01", "series": "MidSalt", "salinity": 2.61},
      {"date": "2016-09-01", "series": "MidSalt", "salinity": 2.52}, {"date": "2016-10-01", "series": "MidSalt", "salinity": 2.38},
      {"date": "2016-11-01", "series": "MidSalt", "salinity": 2.26}, {"date": "2016-12-01", "series": "MidSalt", "salinity": 1.96},
      {"date": "2017-01-01", "series": "MidSalt", "salinity": 2.36}, {"date": "2017-02-01", "series": "MidSalt", "salinity": 2.36},
      {"date": "2017-03-01", "series": "MidSalt", "salinity": 2.4}, {"date": "2017-04-01", "series": "MidSalt", "salinity": 2.4},
      {"date": "2017-05-01", "series": "MidSalt", "salinity": 2.36}, {"date": "2017-06-01", "series": "MidSalt", "salinity": 2.46},
      {"date": "2017-07-01", "series": "MidSalt", "salinity": 2.6}, {"date": "2017-08-01", "series": "MidSalt", "salinity": 1.69},
      {"date": "2017-09-01", "series": "MidSalt", "salinity": 2.36}, {"date": "2017-10-01", "series": "MidSalt", "salinity": 2.06},
      {"date": "2017-11-01", "series": "MidSalt", "salinity": 2.04}, {"date": "2017-12-01", "series": "MidSalt", "salinity": 1.69},
      {"date": "2018-01-01", "series": "MidSalt", "salinity": 2.04}, {"date": "2018-02-01", "series": "MidSalt", "salinity": 1.96},
      {"date": "2018-03-01", "series": "MidSalt", "salinity": 2.0}, {"date": "2018-04-01", "series": "MidSalt", "salinity": 1.31},
      {"date": "2018-05-01", "series": "MidSalt", "salinity": 1.25}, {"date": "2018-06-01", "series": "MidSalt", "salinity": 1.63},
      {"date": "2018-07-01", "series": "MidSalt", "salinity": 1.69}, {"date": "2018-08-01", "series": "MidSalt", "salinity": 1.61},
      {"date": "2018-09-01", "series": "MidSalt", "salinity": 1.94}, {"date": "2018-10-01", "series": "MidSalt", "salinity": 1.85},
      {"date": "2018-11-01", "series": "MidSalt", "salinity": 1.55}, {"date": "2018-12-01", "series": "MidSalt", "salinity": 1.55},
      {"date": "2019-01-01", "series": "MidSalt", "salinity": 1.55}, {"date": "2019-02-01", "series": "MidSalt", "salinity": 1.13},
      {"date": "2019-03-01", "series": "MidSalt", "salinity": 1.95}, {"date": "2019-04-01", "series": "MidSalt", "salinity": 1.11},
      {"date": "2019-05-01", "series": "MidSalt", "salinity": 1.88}, {"date": "2019-06-01", "series": "MidSalt", "salinity": 1.85},
      {"date": "2019-07-01", "series": "MidSalt", "salinity": 1.85}, {"date": "2019-08-01", "series": "MidSalt", "salinity": 2.26},
      {"date": "2019-09-01", "series": "MidSalt", "salinity": 2.2}, {"date": "2019-10-01", "series": "MidSalt", "salinity": 3.0},
      {"date": "2019-11-01", "series": "MidSalt", "salinity": 1.92}, {"date": "2019-12-01", "series": "MidSalt", "salinity": 1.35},
      {"date": "2020-01-01", "series": "MidSalt", "salinity": 1.8}, {"date": "2020-02-01", "series": "MidSalt", "salinity": 1.55},
      {"date": "2020-03-01", "series": "MidSalt", "salinity": 2.36}, {"date": "2020-04-01", "series": "MidSalt", "salinity": 1.39},
      {"date": "2020-05-01", "series": "MidSalt", "salinity": 1.61}, {"date": "2020-06-01", "series": "MidSalt", "salinity": 1.88},
      {"date": "2020-07-01", "series": "MidSalt", "salinity": 2.1}, {"date": "2020-08-01", "series": "MidSalt", "salinity": 2.14},
      {"date": "2020-09-01", "series": "MidSalt", "salinity": 1.39}, {"date": "2020-10-01", "series": "MidSalt", "salinity": 2.14},
      {"date": "2020-11-01", "series": "MidSalt", "salinity": 1.67}, {"date": "2020-12-01", "series": "MidSalt", "salinity": 1.4},

      {"date": "2014-01-01", "series": "HighSalt", "salinity": 4.9}, {"date": "2014-02-01", "series": "HighSalt", "salinity": 4.45},
      {"date": "2014-03-01", "series": "HighSalt", "salinity": 4.86}, {"date": "2014-04-01", "series": "HighSalt", "salinity": 4.9},
      {"date": "2014-05-01", "series": "HighSalt", "salinity": 4.9}, {"date": "2014-06-01", "series": "HighSalt", "salinity": 4.93},
      {"date": "2014-07-01", "series": "HighSalt", "salinity": 4.93}, {"date": "2014-08-01", "series": "HighSalt", "salinity": 4.9},
      {"date": "2014-09-01", "series": "HighSalt", "salinity": 4.37}, {"date": "2014-10-01", "series": "HighSalt", "salinity": 3.69},
      {"date": "2014-11-01", "series": "HighSalt", "salinity": 2.6}, {"date": "2014-12-01", "series": "HighSalt", "salinity": 2.44},
      {"date": "2015-01-01", "series": "HighSalt", "salinity": 4.44}, {"date": "2015-02-01", "series": "HighSalt", "salinity": 4.46},
      {"date": "2015-03-01", "series": "HighSalt", "salinity": 4.62}, {"date": "2015-04-01", "series": "HighSalt", "salinity": 4.63},
      {"date": "2015-05-01", "series": "HighSalt", "salinity": 4.86}, {"date": "2015-06-01", "series": "HighSalt", "salinity": 4.92},
      {"date": "2015-07-01", "series": "HighSalt", "salinity": 4.8}, {"date": "2015-08-01", "series": "HighSalt", "salinity": 4.48},
      {"date": "2015-09-01", "series": "HighSalt", "salinity": 4.46}, {"date": "2015-10-01", "series": "HighSalt", "salinity": 3.5},
      {"date": "2015-11-01", "series": "HighSalt", "salinity": 2.56}, {"date": "2015-12-01", "series": "HighSalt", "salinity": 4.19},
      {"date": "2016-01-01", "series": "HighSalt", "salinity": 3.99}, {"date": "2016-02-01", "series": "HighSalt", "salinity": 4.13},
      {"date": "2016-03-01", "series": "HighSalt", "salinity": 4.2}, {"date": "2016-04-01", "series": "HighSalt", "salinity": 4.15},
      {"date": "2016-05-01", "series": "HighSalt", "salinity": 3.99}, {"date": "2016-06-01", "series": "HighSalt", "salinity": 3.95},
      {"date": "2016-07-01", "series": "HighSalt", "salinity": 3.99}, {"date": "2016-08-01", "series": "HighSalt", "salinity": 3.99},
      {"date": "2016-09-01", "series": "HighSalt", "salinity": 4.05}, {"date": "2016-10-01", "series": "HighSalt", "salinity": 3.85},
      {"date": "2016-11-01", "series": "HighSalt", "salinity": 3.74}, {"date": "2016-12-01", "series": "HighSalt", "salinity": 3.73},
      {"date": "2017-01-01", "series": "HighSalt", "salinity": 3.38}, {"date": "2017-02-01", "series": "HighSalt", "salinity": 3.77},
      {"date": "2017-03-01", "series": "HighSalt", "salinity": 3.83}, {"date": "2017-04-01", "series": "HighSalt", "salinity": 3.83},
      {"date": "2017-05-01", "series": "HighSalt", "salinity": 3.87}, {"date": "2017-06-01", "series": "HighSalt", "salinity": 3.87},
      {"date": "2017-07-01", "series": "HighSalt", "salinity": 3.87}, {"date": "2017-08-01", "series": "HighSalt", "salinity": 3.59},
      {"date": "2017-09-01", "series": "HighSalt", "salinity": 3.82}, {"date": "2017-10-01", "series": "HighSalt", "salinity": 3.23},
      {"date": "2017-11-01", "series": "HighSalt", "salinity": 2.94}, {"date": "2017-12-01", "series": "HighSalt", "salinity": 3.0},
      {"date": "2018-01-01", "series": "HighSalt", "salinity": 3.19}, {"date": "2018-02-01", "series": "HighSalt", "salinity": 3.02},
      {"date": "2018-03-01", "series": "HighSalt", "salinity": 2.88}, {"date": "2018-04-01", "series": "HighSalt", "salinity": 3.25},
      {"date": "2018-05-01", "series": "HighSalt", "salinity": 3.36}, {"date": "2018-06-01", "series": "HighSalt", "salinity": 2.96},
      {"date": "2018-07-01", "series": "HighSalt", "salinity": 2.56}, {"date": "2018-08-01", "series": "HighSalt", "salinity": 2.5},
      {"date": "2018-09-01", "series": "HighSalt", "salinity": 3.2}, {"date": "2018-10-01", "series": "HighSalt", "salinity": 2.52},
      {"date": "2018-11-01", "series": "HighSalt", "salinity": 2.46}, {"date": "2018-12-01", "series": "HighSalt", "salinity": 2.5},
      {"date": "2019-01-01", "series": "HighSalt", "salinity": 2.14}, {"date": "2019-02-01", "series": "HighSalt", "salinity": 2.66},
      {"date": "2019-03-01", "series": "HighSalt", "salinity": 2.74}, {"date": "2019-04-01", "series": "HighSalt", "salinity": 2.61},
      {"date": "2019-05-01", "series": "HighSalt", "salinity": 2.78}, {"date": "2019-06-01", "series": "HighSalt", "salinity": 2.82},
      {"date": "2019-07-01", "series": "HighSalt", "salinity": 2.46}, {"date": "2019-08-01", "series": "HighSalt", "salinity": 3.29},
      {"date": "2019-09-01", "series": "HighSalt", "salinity": 3.17}, {"date": "2019-10-01", "series": "HighSalt", "salinity": 4.58},
      {"date": "2019-11-01", "series": "HighSalt", "salinity": 2.64}, {"date": "2019-12-01", "series": "HighSalt", "salinity": 3.37},
      {"date": "2020-01-01", "series": "HighSalt", "salinity": 2.32}, {"date": "2020-02-01", "series": "HighSalt", "salinity": 1.94},
      {"date": "2020-03-01", "series": "HighSalt", "salinity": 2.94}, {"date": "2020-04-01", "series": "HighSalt", "salinity": 2.04},
      {"date": "2020-05-01", "series": "HighSalt", "salinity": 2.26}, {"date": "2020-06-01", "series": "HighSalt", "salinity": 2.49},
      {"date": "2020-07-01", "series": "HighSalt", "salinity": 2.61}, {"date": "2020-08-01", "series": "HighSalt", "salinity": 2.64},
      {"date": "2020-09-01", "series": "HighSalt", "salinity": 1.79}, {"date": "2020-10-01", "series": "HighSalt", "salinity": 2.76},
      {"date": "2020-11-01", "series": "HighSalt", "salinity": 1.85}, {"date": "2020-12-01", "series": "HighSalt", "salinity": 1.76}
    ]
  },
  "spacing": 148,
  "resolve": {"scale": {"x": "independent", "y": "independent", "color": "independent"}, "legend": {"color": "independent"}},
  "vconcat": [
    {
      "bounds": "flush",
      "spacing": 50,
      "hconcat": [
        {"width": 1, "height": 1, "data": {"values": []}, "mark": "point"},
        {
          "width": 2170,
          "height": 952,
          "resolve": {"scale": {"y": "independent"}},
          "layer": [
            {
              "data": {"name": "precip"},
              "mark": {"type": "rule", "strokeWidth": 3.5},
              "encoding": {
                "x": {
                  "field": "date",
                  "type": "temporal",
                  "scale": {"type": "utc", "nice": false, "domain": [{"year": 2015, "month": 1, "date": 1, "utc": true}, {"year": 2019, "month": 3, "date": 26, "utc": true}]},
                  "axis": {
                    "values": [
                      {"year": 2015, "month": 1, "date": 1, "utc": true},
                      {"year": 2016, "month": 1, "date": 1, "utc": true},
                      {"year": 2016, "month": 12, "date": 31, "utc": true},
                      {"year": 2017, "month": 12, "date": 31, "utc": true},
                      {"year": 2018, "month": 12, "date": 31, "utc": true}
                    ],
                    "labelExpr": "substring(utcFormat(datum.value, '%b'), 0, 1) + '-' + utcFormat(datum.value, '%y')",
                    "title": "Date",
                    "titleFontSize": 46,
                    "titleY": 131,
                    "grid": false,
                    "labelFlush": false,
                    "labelPadding": 45
                  }
                },
                "y": {
                  "field": "precip",
                  "type": "quantitative",
                  "scale": {"domain": [0, 30], "reverse": true, "nice": false},
                  "axis": {
                    "orient": "right",
                    "values": [0, 5, 10, 15, 20, 25, 30],
                    "title": "Precipitation (cm)",
                    "titleAngle": 270,
                    "titleBaseline": "top",
                    "titleX": 162,
                    "grid": false,
                    "ticks": true,
                    "tickSize": 20,
                    "tickWidth": 3,
                    "tickColor": "#b8d8a4",
                    "domainColor": "#b8d8a4",
                    "labelPadding": 36
                  }
                },
                "y2": {"datum": 0},
                "color": {"datum": "Precipitation", "type": "nominal"}
              }
            },
            {
              "data": {"name": "water"},
              "mark": {"type": "line", "strokeWidth": 4, "strokeJoin": "round"},
              "encoding": {
                "x": {"field": "date", "type": "temporal"},
                "y": {
                  "field": "depth",
                  "type": "quantitative",
                  "scale": {"domain": [0, 2], "nice": false},
                  "axis": {
                    "orient": "left",
                    "values": [0, 0.2, 0.4, 0.6, 0.8, 1, 1.2, 1.4, 1.6, 1.8, 2],
                    "format": "~g",
                    "title": "Mean daily water depth (m)",
                    "titleAngle": 270,
                    "titleBaseline": "bottom",
                    "titleX": -173,
                    "labelPadding": 61,
                    "grid": true,
                    "gridColor": {"condition": {"test": "datum.value === 2", "value": "#b8d8a4"}, "value": "#d9d9d9"}
                  }
                },
                "color": {
                  "datum": "Water Level",
                  "type": "nominal",
                  "scale": {"domain": ["Water Level", "Precipitation"], "range": ["#5b9bd5", "#b8d8a4"]},
                  "legend": {
                    "orient": "none",
                    "legendX": 609,
                    "legendY": -205,
                    "direction": "horizontal",
                    "title": null,
                    "symbolType": "stroke",
                    "symbolSize": 23104,
                    "symbolStrokeWidth": 4,
                    "labelOffset": 18,
                    "columnPadding": 84
                  }
                }
              }
            }
          ]
        }
      ]
    },
    {
      "width": 2391,
      "height": 948,
      "layer": [
        {
          "data": {"name": "salinity"},
          "mark": {"type": "line", "strokeWidth": 10, "strokeJoin": "round"},
          "encoding": {
            "x": {
              "field": "date",
              "type": "temporal",
              "scale": {"type": "utc", "nice": false, "domain": [{"year": 2014, "month": 1, "date": 1, "utc": true}, {"year": 2020, "month": 12, "date": 1, "utc": true}]},
              "axis": {
                "values": [
                  {"year": 2014, "month": 1, "date": 1, "utc": true},
                  {"year": 2015, "month": 1, "date": 1, "utc": true},
                  {"year": 2016, "month": 1, "date": 1, "utc": true},
                  {"year": 2016, "month": 12, "date": 31, "utc": true},
                  {"year": 2017, "month": 12, "date": 31, "utc": true},
                  {"year": 2018, "month": 12, "date": 31, "utc": true},
                  {"year": 2019, "month": 12, "date": 31, "utc": true}
                ],
                "labelExpr": "substring(utcFormat(datum.value, '%b'), 0, 1) + '-' + utcFormat(datum.value, '%y')",
                "title": "Date",
                "titleFontSize": 46,
                "titleY": 135,
                "grid": false,
                "labelFlush": false,
                "labelPadding": 48
              }
            },
            "y": {
              "field": "salinity",
              "type": "quantitative",
              "title": "Salinity (ppt)",
              "scale": {"domain": [0, 6], "nice": false},
              "axis": {
                "values": [0, 1, 2, 3, 4, 5, 6],
                "format": "~g",
                "titleAngle": 270,
                "titleBaseline": "bottom",
                "titleX": -123,
                "labelPadding": 56,
                "grid": true
              }
            },
            "color": {
              "field": "series",
              "type": "nominal",
              "scale": {"domain": ["Fresh", "LowSalt", "MidSalt", "HighSalt"], "range": ["#4472c4", "#ed7d31", "#a5a5a5", "#ffc000"]},
              "legend": {
                "orient": "none",
                "legendX": 301,
                "legendY": -209,
                "direction": "horizontal",
                "title": null,
                "symbolType": "stroke",
                "symbolSize": 24649,
                "symbolStrokeWidth": 10,
                "labelOffset": 11,
                "columnPadding": 62
              }
            }
          }
        },
        {
          "data": {"values": [{"threshold": 1}]},
          "mark": {"type": "rule", "color": "#00b050", "strokeWidth": 10, "strokeDash": [54, 40]},
          "encoding": {
            "y": {"field": "threshold", "type": "quantitative", "title": "Salinity (ppt)"}
          }
        }
      ]
    }
  ]
}
